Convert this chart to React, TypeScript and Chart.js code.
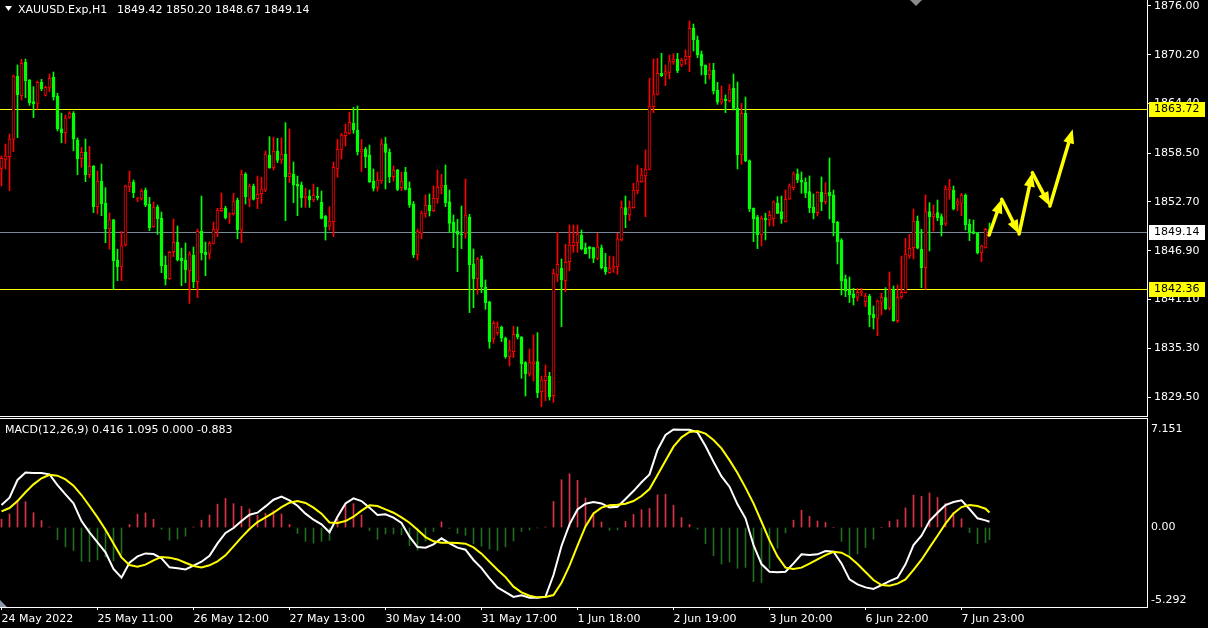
import React, { useEffect, useRef } from "react";
import { Chart, registerables } from "chart.js";

Chart.register(...registerables);
Chart.defaults.font.family = "DejaVu Sans";

// ---------- DATA ----------
const SYMBOL_TITLE = "XAUUSD.Exp,H1";
const SYMBOL_VALUES = "1849.42 1850.20 1848.67 1849.14";
const MACD_TITLE = "MACD(12,26,9) 0.416 1.095 0.000 -0.883";

const OPEN = [
  1856.70, 1857.77, 1858.09, 1860.15, 1867.68, 1865.34, 1869.30, 1867.20, 1864.63, 1864.43,
  1866.93, 1865.38, 1866.33, 1867.52, 1865.30, 1861.38, 1860.94, 1862.76, 1863.24, 1860.07,
  1857.85, 1858.64, 1855.95, 1856.98, 1852.14, 1855.19, 1852.54, 1849.49, 1850.56, 1845.80,
  1845.01, 1847.58, 1854.51, 1855.07, 1853.05, 1853.05, 1854.12, 1852.45, 1849.76, 1852.10,
  1850.79, 1845.20, 1843.57, 1846.79, 1847.93, 1846.03, 1845.79, 1844.53, 1846.39, 1843.22,
  1849.20, 1846.75, 1846.59, 1847.78, 1849.36, 1851.66, 1851.94, 1851.14, 1851.30, 1852.89,
  1849.36, 1856.02, 1853.00, 1854.59, 1853.09, 1853.68, 1854.12, 1858.28, 1856.77, 1858.76,
  1857.69, 1858.40, 1855.70, 1856.02, 1854.83, 1854.71, 1853.21, 1853.41, 1852.93, 1853.41,
  1852.69, 1851.03, 1849.84, 1850.35, 1856.62, 1858.95, 1860.58, 1860.86, 1862.05, 1861.25,
  1858.64, 1858.95, 1858.28, 1855.19, 1854.44, 1855.19, 1859.60, 1858.64, 1855.71, 1856.50,
  1854.40, 1856.26, 1854.36, 1852.46, 1846.39, 1848.97, 1851.27, 1852.34, 1851.67, 1853.05,
  1854.44, 1854.72, 1852.70, 1850.32, 1849.25, 1848.89, 1848.97, 1850.91, 1845.33, 1843.58,
  1845.92, 1842.59, 1840.81, 1836.41, 1837.16, 1837.83, 1836.52, 1834.31, 1834.90, 1837.00,
  1836.64, 1833.59, 1832.24, 1833.47, 1833.71, 1830.14, 1831.45, 1832.00, 1829.67, 1844.02,
  1844.81, 1843.34, 1845.60, 1847.50, 1847.86, 1848.77, 1847.23, 1847.35, 1847.27, 1846.00,
  1847.23, 1844.97, 1844.29, 1844.89, 1845.01, 1848.18, 1852.02, 1851.15, 1852.02, 1854.04,
  1855.11, 1855.79, 1856.58, 1864.03, 1865.50, 1867.99, 1867.88, 1868.11, 1869.38, 1869.70,
  1868.98, 1869.58, 1869.98, 1873.34, 1871.96, 1870.25, 1868.98, 1867.80, 1868.39, 1866.01,
  1864.55, 1864.94, 1864.74, 1866.25, 1863.83, 1858.28, 1863.24, 1857.61, 1851.94, 1850.87,
  1848.77, 1850.76, 1850.56, 1850.72, 1852.58, 1851.55, 1850.36, 1853.05, 1854.40, 1856.03,
  1855.31, 1855.04, 1853.93, 1852.10, 1851.43, 1853.85, 1852.74, 1853.85, 1853.53, 1850.32,
  1848.18, 1843.54, 1842.23, 1841.76, 1841.36, 1841.92, 1840.85, 1841.52, 1839.38, 1838.86,
  1840.77, 1841.32, 1840.05, 1842.31, 1838.58, 1841.44, 1841.91, 1846.27, 1847.26, 1850.44,
  1847.11, 1844.89, 1851.55, 1850.95, 1851.43, 1850.95, 1850.16, 1854.12, 1854.12, 1852.42,
  1852.54, 1853.53, 1850.08, 1849.17, 1848.97, 1846.67, 1847.30, 1849.42,
];
const HIGH = [
  1858.17, 1859.59, 1860.78, 1867.80, 1868.99, 1869.66, 1869.70, 1867.25, 1866.41, 1867.08,
  1867.28, 1866.49, 1867.92, 1868.15, 1865.62, 1863.24, 1863.04, 1863.44, 1863.44, 1860.31,
  1859.20, 1860.19, 1859.32, 1857.02, 1856.38, 1857.21, 1854.40, 1851.39, 1850.64, 1847.07,
  1849.21, 1854.70, 1856.38, 1855.31, 1853.25, 1854.24, 1854.36, 1853.25, 1852.69, 1852.33,
  1851.50, 1846.27, 1846.82, 1850.67, 1849.84, 1847.22, 1847.82, 1846.79, 1847.34, 1849.48,
  1853.40, 1847.93, 1847.98, 1850.31, 1851.94, 1853.76, 1852.18, 1851.42, 1853.72, 1853.17,
  1856.50, 1856.18, 1854.83, 1854.83, 1855.78, 1855.63, 1858.76, 1860.46, 1860.42, 1860.26,
  1860.34, 1862.13, 1861.37, 1857.45, 1855.78, 1855.07, 1854.32, 1854.12, 1854.83, 1854.44,
  1854.00, 1851.10, 1852.14, 1857.45, 1860.14, 1860.86, 1861.97, 1863.39, 1863.95, 1864.11,
  1860.14, 1859.19, 1859.47, 1856.62, 1856.26, 1860.20, 1860.40, 1859.00, 1856.98, 1856.58,
  1856.26, 1856.82, 1855.08, 1852.74, 1849.49, 1851.63, 1853.53, 1853.65, 1854.60, 1856.50,
  1855.99, 1857.10, 1854.12, 1851.15, 1850.64, 1852.22, 1855.43, 1851.23, 1847.11, 1846.12,
  1846.28, 1843.42, 1840.90, 1838.55, 1838.43, 1837.95, 1836.64, 1836.25, 1837.91, 1837.83,
  1836.70, 1833.71, 1835.22, 1836.88, 1837.16, 1832.00, 1833.31, 1832.44, 1844.73, 1849.09,
  1845.92, 1847.66, 1849.96, 1849.96, 1849.96, 1849.37, 1847.82, 1847.40, 1847.30, 1848.97,
  1847.58, 1846.59, 1846.27, 1846.19, 1848.97, 1852.81, 1853.41, 1852.81, 1854.91, 1857.09,
  1856.70, 1858.88, 1867.40, 1869.70, 1869.78, 1870.37, 1868.98, 1870.17, 1870.33, 1870.37,
  1869.78, 1870.77, 1874.22, 1873.86, 1872.43, 1870.65, 1869.00, 1869.18, 1869.18, 1866.92,
  1866.49, 1865.42, 1866.69, 1867.91, 1866.96, 1864.43, 1865.18, 1857.70, 1852.00, 1851.11,
  1851.03, 1851.35, 1851.63, 1852.82, 1853.33, 1853.41, 1854.12, 1854.84, 1856.27, 1856.62,
  1856.27, 1855.55, 1855.79, 1853.65, 1853.93, 1855.67, 1855.00, 1857.93, 1854.12, 1850.40,
  1848.34, 1844.02, 1843.78, 1842.43, 1842.43, 1842.43, 1841.84, 1841.72, 1840.33, 1841.04,
  1841.84, 1842.51, 1844.37, 1842.71, 1842.83, 1846.27, 1848.37, 1848.85, 1851.86, 1851.03,
  1849.45, 1853.53, 1852.62, 1852.34, 1852.93, 1851.27, 1854.64, 1855.39, 1854.60, 1853.13,
  1853.73, 1853.65, 1850.63, 1850.55, 1849.09, 1847.58, 1849.56, 1850.20,
];
const LOW = [
  1854.60, 1856.62, 1854.04, 1858.68, 1860.35, 1864.82, 1865.10, 1864.19, 1862.72, 1863.75,
  1865.93, 1865.30, 1865.82, 1864.82, 1861.14, 1859.75, 1859.67, 1862.64, 1858.80, 1855.95,
  1856.82, 1855.11, 1855.59, 1851.43, 1851.27, 1851.07, 1847.86, 1847.07, 1842.31, 1843.34,
  1843.34, 1847.46, 1853.92, 1853.21, 1852.73, 1852.93, 1852.14, 1849.28, 1849.68, 1848.85,
  1844.29, 1842.82, 1843.49, 1846.19, 1845.68, 1842.74, 1843.10, 1840.64, 1842.50, 1841.32,
  1845.79, 1843.93, 1845.91, 1847.70, 1848.57, 1851.54, 1850.67, 1850.15, 1851.14, 1848.33,
  1847.86, 1852.45, 1852.14, 1852.93, 1851.90, 1852.53, 1853.92, 1856.70, 1856.50, 1857.37,
  1857.29, 1850.47, 1854.99, 1852.61, 1851.07, 1852.06, 1852.06, 1852.06, 1852.73, 1852.93,
  1850.67, 1848.17, 1849.36, 1848.57, 1855.63, 1857.81, 1859.35, 1860.78, 1860.86, 1858.28,
  1856.30, 1856.77, 1854.99, 1854.00, 1854.00, 1854.92, 1854.24, 1855.00, 1855.19, 1854.04,
  1854.04, 1854.12, 1852.06, 1846.08, 1845.80, 1848.34, 1850.87, 1851.03, 1851.55, 1852.54,
  1853.65, 1852.14, 1849.05, 1847.27, 1844.41, 1847.15, 1848.38, 1839.54, 1840.13, 1841.76,
  1841.92, 1839.93, 1835.30, 1835.89, 1836.88, 1836.09, 1834.11, 1833.20, 1834.19, 1836.41,
  1831.73, 1829.63, 1832.00, 1831.41, 1829.43, 1828.36, 1829.07, 1829.15, 1828.88, 1843.22,
  1837.87, 1842.03, 1844.53, 1846.71, 1846.71, 1846.99, 1846.51, 1846.00, 1845.48, 1845.80,
  1844.73, 1844.09, 1844.21, 1844.33, 1844.09, 1848.06, 1849.64, 1850.48, 1851.94, 1853.65,
  1855.03, 1850.95, 1856.50, 1863.32, 1865.42, 1867.60, 1866.53, 1867.32, 1869.06, 1868.07,
  1868.79, 1869.06, 1868.19, 1870.65, 1869.86, 1867.80, 1866.77, 1867.32, 1865.54, 1864.31,
  1864.31, 1863.32, 1864.55, 1863.63, 1856.62, 1857.17, 1857.49, 1851.55, 1847.98, 1847.15,
  1847.47, 1848.18, 1849.84, 1849.84, 1851.30, 1850.16, 1850.30, 1853.00, 1854.12, 1855.00,
  1853.73, 1853.21, 1851.43, 1850.68, 1851.03, 1851.67, 1852.46, 1850.68, 1848.66, 1845.33,
  1841.64, 1841.44, 1840.73, 1840.45, 1840.93, 1841.52, 1840.25, 1837.87, 1837.60, 1836.80,
  1839.26, 1839.90, 1839.85, 1838.50, 1838.35, 1841.24, 1841.85, 1846.00, 1845.92, 1847.11,
  1842.51, 1842.31, 1846.87, 1849.25, 1850.48, 1848.65, 1849.88, 1853.01, 1851.74, 1851.66,
  1851.07, 1849.37, 1848.10, 1848.89, 1846.51, 1845.60, 1847.20, 1848.67,
];
const CLOSE = [
  1857.89, 1858.17, 1860.19, 1867.68, 1865.46, 1869.18, 1867.12, 1864.51, 1864.39, 1866.93,
  1866.17, 1866.33, 1867.40, 1865.22, 1861.42, 1860.94, 1862.68, 1863.24, 1860.15, 1857.81,
  1858.60, 1855.91, 1856.94, 1852.14, 1855.19, 1852.46, 1849.49, 1850.56, 1845.72, 1844.97,
  1847.50, 1854.59, 1855.07, 1853.80, 1853.17, 1854.00, 1852.33, 1849.64, 1852.10, 1850.67,
  1845.12, 1843.53, 1846.71, 1847.89, 1845.83, 1845.68, 1844.64, 1846.51, 1843.22, 1849.20,
  1846.67, 1846.43, 1847.78, 1849.44, 1851.74, 1851.94, 1850.83, 1851.30, 1852.73, 1849.36,
  1856.02, 1853.30, 1854.59, 1853.01, 1853.60, 1854.24, 1858.40, 1856.77, 1858.76, 1857.65,
  1858.40, 1855.70, 1856.10, 1854.71, 1854.59, 1853.21, 1853.41, 1852.93, 1853.49, 1853.21,
  1850.75, 1849.76, 1850.43, 1856.81, 1858.95, 1860.66, 1861.02, 1862.17, 1861.25, 1858.64,
  1859.00, 1858.08, 1855.11, 1854.32, 1855.31, 1859.60, 1858.60, 1855.71, 1856.50, 1854.20,
  1855.19, 1854.20, 1852.34, 1846.39, 1849.17, 1851.39, 1852.34, 1851.63, 1853.13, 1854.44,
  1854.72, 1852.62, 1850.16, 1849.13, 1848.85, 1848.77, 1851.15, 1845.21, 1843.58, 1845.92,
  1842.59, 1840.73, 1836.09, 1838.27, 1837.83, 1836.49, 1834.31, 1835.10, 1836.96, 1836.68,
  1833.43, 1832.24, 1833.59, 1833.71, 1830.02, 1831.53, 1832.00, 1829.55, 1844.21, 1845.28,
  1843.42, 1845.52, 1847.58, 1847.94, 1848.89, 1847.11, 1846.55, 1847.11, 1846.00, 1847.35,
  1844.89, 1844.41, 1844.81, 1845.01, 1848.30, 1852.02, 1851.15, 1852.02, 1854.12, 1855.19,
  1855.91, 1856.62, 1864.11, 1865.54, 1867.99, 1867.72, 1868.19, 1869.46, 1869.70, 1868.31,
  1869.58, 1870.05, 1873.34, 1871.96, 1870.17, 1868.87, 1867.80, 1868.39, 1865.89, 1864.55,
  1864.94, 1864.70, 1866.13, 1863.83, 1858.28, 1863.24, 1857.61, 1851.86, 1850.68, 1848.77,
  1850.76, 1850.56, 1851.11, 1852.70, 1851.35, 1850.64, 1853.01, 1854.60, 1856.03, 1855.31,
  1855.04, 1853.73, 1852.02, 1851.43, 1853.85, 1852.74, 1853.73, 1853.41, 1850.24, 1847.98,
  1843.30, 1842.12, 1841.64, 1841.32, 1841.96, 1842.04, 1841.52, 1839.26, 1838.94, 1840.92,
  1841.36, 1839.97, 1842.31, 1838.58, 1841.36, 1841.95, 1846.51, 1847.19, 1850.44, 1847.19,
  1844.89, 1851.55, 1850.95, 1851.27, 1850.83, 1849.96, 1854.24, 1854.40, 1851.86, 1852.73,
  1853.53, 1849.96, 1849.05, 1848.97, 1846.67, 1847.46, 1849.44, 1849.14,
];

// MACD main line and signal line, read every second bar (bars 0, 2, ..., 246)
const MACD_MAIN = [
  1.64, 2.18, 3.47, 4.02, 3.98, 3.98, 3.88, 3.10, 2.42, 1.76,
  0.47, -0.35, -1.08, -1.81, -3.03, -3.66, -2.57, -2.11, -1.89, -1.94,
  -2.25, -2.91, -2.98, -3.06, -2.79, -2.50, -2.06, -1.16, -0.40, -0.04,
  0.47, 0.93, 1.08, 1.54, 2.03, 2.25, 1.98, 1.59, 1.01, 0.57,
  0.23, -0.35, 0.79, 1.76, 2.13, 1.93, 1.45, 0.91, 0.96, 0.72,
  0.33, -0.67, -1.43, -1.47, -1.23, -0.79, -1.16, -1.47, -1.62, -2.37,
  -2.96, -3.71, -4.37, -4.71, -5.07, -4.95, -5.12, -5.12, -5.05, -3.47,
  -1.35, 0.23, 1.32, 1.74, 1.86, 1.76, 1.47, 1.52, 2.08, 2.66,
  3.30, 3.88, 5.66, 6.75, 7.15, 7.14, 7.14, 6.94, 5.95, 4.80,
  3.73, 2.98, 1.69, 0.67, -1.28, -2.67, -3.23, -3.27, -3.23, -2.62,
  -1.96, -2.01, -1.96, -1.72, -1.77, -2.62, -3.79, -4.15, -4.37, -4.49,
  -4.20, -3.91, -3.66, -2.69, -1.28, -0.60, 0.47, 1.08, 1.64, 1.86,
  1.98, 1.35, 0.67, 0.52,
];
const MACD_SIGNAL = [
  1.18, 1.42, 1.93, 2.57, 3.15, 3.59, 3.85, 3.78, 3.51, 3.05,
  2.37, 1.57, 0.74, -0.16, -1.16, -2.18, -2.74, -2.86, -2.71, -2.40,
  -2.15, -2.20, -2.33, -2.57, -2.81, -2.91, -2.76, -2.47, -2.03, -1.38,
  -0.72, -0.11, 0.40, 0.74, 1.08, 1.49, 1.81, 1.93, 1.79, 1.45,
  1.01, 0.37, 0.33, 0.47, 0.79, 1.23, 1.62, 1.57, 1.32, 1.08,
  0.74, 0.35, -0.16, -0.70, -1.01, -1.11, -1.11, -1.13, -1.18, -1.45,
  -1.91, -2.50, -3.08, -3.62, -4.32, -4.73, -4.98, -5.10, -5.07, -4.93,
  -4.03, -2.79, -1.33, 0.08, 1.03, 1.45, 1.62, 1.66, 1.74, 1.93,
  2.30, 2.81, 3.83, 4.88, 5.90, 6.58, 6.97, 7.04, 6.85, 6.39,
  5.78, 4.92, 3.98, 2.91, 1.76, 0.42, -0.94, -2.11, -2.93, -3.03,
  -2.93, -2.64, -2.33, -2.01, -1.77, -1.84, -2.15, -2.67, -3.25, -3.83,
  -4.20, -4.25, -4.10, -3.79, -3.10, -2.35, -1.47, -0.60, 0.28, 1.03,
  1.49, 1.64, 1.57, 1.37,
];
const MACD_LAST_MAIN = 0.416;
const MACD_LAST_SIGNAL = 1.095;
// histogram = 1.3 x (main - signal): 1.3 * (0.416 - 1.095) = -0.883 as in the legend
const HIST_FACTOR = 1.3;

const PRICE_TICKS = [1876.0, 1870.2, 1864.4, 1858.5, 1852.7, 1846.9, 1841.1, 1835.3, 1829.5];
const MACD_TICKS = [7.151, 0, -5.292];
const MACD_TICK_LABELS = ["7.151", "0.00", "-5.292"];
const TIME_TICK_BARS = [0, 24, 48, 72, 96, 120, 144, 168, 192, 216, 240];
const TIME_LABELS = [
  "24 May 2022", "25 May 11:00", "26 May 12:00", "27 May 13:00", "30 May 14:00",
  "31 May 17:00", "1 Jun 18:00", "2 Jun 19:00", "3 Jun 20:00", "6 Jun 22:00", "7 Jun 23:00",
];

const LEVEL_PRICES = [1863.72, 1849.14, 1842.36];
const LEVEL_KINDS = ["line", "bid", "line"];

// hand-drawn zig-zag forecast arrows (bar index, price)
const ARROW_BARS = [246.9, 250.05, 254.4, 257.7, 262.1, 267.8];
const ARROW_PRICES = [1848.77, 1853.02, 1848.89, 1856.18, 1852.22, 1861.34];

// ---------- STYLE / LAYOUT ----------
const W = 1208;
const MAIN_H = 417;
const MACD_H = 211;
const AXIS_W = 61;
const X_MIN = -0.375;
const X_MAX = 286.375;
const PRICE_MIN = 1827.248;
const PRICE_MAX = 1876.713;
const MACD_MIN = -5.803;
const MACD_MAX = 7.92;
const FONT = { family: "DejaVu Sans", size: 11 };
const BULL = "#ff0000";
const BEAR = "#00ff00";
const LEVEL_YELLOW = "#ffff00";
const BID_GRAY = "#778899";

function drawArrow(ctx: CanvasRenderingContext2D, x1: number, y1: number, x2: number, y2: number) {
  const ang = Math.atan2(y2 - y1, x2 - x1);
  const head = 14;
  const hw = 5.5;
  const bx = x2 - head * Math.cos(ang);
  const by = y2 - head * Math.sin(ang);
  ctx.beginPath();
  ctx.moveTo(x1, y1);
  ctx.lineTo(bx, by);
  ctx.lineWidth = 3.5;
  ctx.stroke();
  ctx.beginPath();
  ctx.moveTo(x2, y2);
  ctx.lineTo(bx + hw * Math.sin(ang), by - hw * Math.cos(ang));
  ctx.lineTo(bx - hw * Math.sin(ang), by + hw * Math.cos(ang));
  ctx.closePath();
  ctx.fill();
}

const fixVertical = (s: any) => {
  s.width = AXIS_W;
  s.paddingTop = 0;
  s.paddingBottom = 0;
};

export default function App() {
  const mainRef = useRef<HTMLCanvasElement | null>(null);
  const macdRef = useRef<HTMLCanvasElement | null>(null);

  useEffect(() => {
    document.body.style.margin = "0";
    document.body.style.background = "#000";

    const bull = OPEN.map((o, i) => CLOSE[i] >= o);

    const mainPlugin = {
      id: "mainDecor",
      beforeDatasetsDraw(chart: any) {
        const { ctx, chartArea, scales } = chart;
        LEVEL_PRICES.forEach((p, k) => {
          const y = Math.round(scales.y.getPixelForValue(p));
          ctx.save();
          ctx.fillStyle = LEVEL_KINDS[k] === "bid" ? BID_GRAY : LEVEL_YELLOW;
          ctx.fillRect(chartArea.left, y, chartArea.right - chartArea.left, 1);
          ctx.restore();
        });
      },
      afterDatasetsDraw(chart: any) {
        const { ctx, scales } = chart;
        ctx.save();
        ctx.strokeStyle = LEVEL_YELLOW;
        ctx.fillStyle = LEVEL_YELLOW;
        ctx.lineCap = "round";
        for (let k = 0; k < ARROW_BARS.length - 1; k++) {
          drawArrow(
            ctx,
            scales.x.getPixelForValue(ARROW_BARS[k]),
            scales.y.getPixelForValue(ARROW_PRICES[k]),
            scales.x.getPixelForValue(ARROW_BARS[k + 1]),
            scales.y.getPixelForValue(ARROW_PRICES[k + 1])
          );
        }
        ctx.restore();
      },
      afterDraw(chart: any) {
        const { ctx, chartArea, scales } = chart;
        ctx.save();
        ctx.fillStyle = "#ffffff";
        ctx.fillRect(0, chartArea.bottom, chartArea.right + 1, 1);
        ctx.beginPath();
        ctx.moveTo(5, 6);
        ctx.lineTo(12, 6);
        ctx.lineTo(8.5, 11);
        ctx.closePath();
        ctx.fill();
        ctx.font = "11px 'DejaVu Sans'";
        ctx.textBaseline = "middle";
        ctx.textAlign = "left";
        ctx.fillText(SYMBOL_TITLE, 18, 10);
        ctx.fillText(SYMBOL_VALUES, 117, 10);
        ctx.fillStyle = "#8a8a8a";
        ctx.beginPath();
        ctx.moveTo(910, 0);
        ctx.lineTo(922, 0);
        ctx.lineTo(916, 6);
        ctx.closePath();
        ctx.fill();
        LEVEL_PRICES.forEach((p, k) => {
          const y = Math.round(scales.y.getPixelForValue(p));
          ctx.fillStyle = LEVEL_KINDS[k] === "bid" ? "#ffffff" : LEVEL_YELLOW;
          ctx.fillRect(chartArea.right + 2, y - 7, 56, 15);
          ctx.fillStyle = "#000000";
          ctx.fillText(p.toFixed(2), chartArea.right + 7, y + 0.5);
        });
        ctx.restore();
      },
    };

    const main = new Chart(mainRef.current as HTMLCanvasElement, {
      type: "bar",
      data: {
        datasets: [
          {
            label: "body",
            data: OPEN.map((o, i) => ({ x: i, y: [o, CLOSE[i]] })) as any,
            backgroundColor: bull.map((b) => (b ? "#000000" : BEAR)),
            borderColor: bull.map((b) => (b ? BULL : BEAR)),
            borderWidth: 1,
            borderSkipped: false,
            barThickness: 3,
            minBarLength: 1,
            grouped: false,
            order: 1,
          } as any,
          {
            label: "wick",
            data: LOW.map((l, i) => ({ x: i, y: [l, HIGH[i]] })) as any,
            backgroundColor: bull.map((b) => (b ? BULL : BEAR)),
            borderWidth: 0,
            barThickness: 1,
            grouped: false,
            order: 2,
          } as any,
        ],
      },
      options: {
        responsive: false,
        maintainAspectRatio: false,
        animation: false,
        layout: { padding: { top: 0, left: 0, right: 0, bottom: 1 } },
        plugins: { legend: { display: false }, tooltip: { enabled: false } },
        scales: {
          x: { type: "linear", min: X_MIN, max: X_MAX, offset: false, display: false },
          y: {
            type: "linear",
            position: "right",
            min: PRICE_MIN,
            max: PRICE_MAX,
            afterFit: fixVertical,
            afterBuildTicks: (s: any) => {
              s.ticks = PRICE_TICKS.map((v) => ({ value: v }));
            },
            ticks: {
              color: "#ffffff",
              font: FONT,
              padding: 3,
              autoSkip: false,
              callback: (v: any) => Number(v).toFixed(2),
            },
            grid: { drawOnChartArea: false, drawTicks: true, tickLength: 4, color: "#ffffff" },
            border: { display: true, color: "#ffffff", width: 1 },
          },
        },
      } as any,
      plugins: [mainPlugin],
    });

    const macdBars = MACD_MAIN.map((_, k) => 2 * k).concat([OPEN.length - 1]);
    const mainLine = MACD_MAIN.concat([MACD_LAST_MAIN]);
    const signalLine = MACD_SIGNAL.concat([MACD_LAST_SIGNAL]);
    const hist = mainLine.map((v, k) => HIST_FACTOR * (v - signalLine[k]));

    const macdPlugin = {
      id: "macdDecor",
      afterDraw(chart: any) {
        const { ctx, chartArea } = chart;
        ctx.save();
        ctx.fillStyle = "#ffffff";
        ctx.fillRect(0, chartArea.top - 1, chartArea.right + 1, 1);
        ctx.font = "11px 'DejaVu Sans'";
        ctx.textBaseline = "middle";
        ctx.textAlign = "left";
        ctx.fillText(MACD_TITLE, 5, chartArea.top + 11);
        ctx.fillStyle = "#8a9aa8";
        ctx.beginPath();
        ctx.moveTo(0, chartArea.bottom - 7);
        ctx.lineTo(0, chartArea.bottom);
        ctx.lineTo(7, chartArea.bottom);
        ctx.closePath();
        ctx.fill();
        ctx.restore();
      },
    };

    const macd = new Chart(macdRef.current as HTMLCanvasElement, {
      type: "bar",
      data: {
        datasets: [
          {
            type: "line",
            label: "signal",
            data: macdBars.map((b, k) => ({ x: b, y: signalLine[k] })),
            borderColor: "#ffff00",
            borderWidth: 2,
            pointRadius: 0,
            order: 1,
          } as any,
          {
            type: "line",
            label: "macd",
            data: macdBars.map((b, k) => ({ x: b, y: mainLine[k] })),
            borderColor: "#ffffff",
            borderWidth: 2,
            pointRadius: 0,
            order: 2,
          } as any,
          {
            type: "bar",
            label: "hist",
            data: macdBars.map((b, k) => ({ x: b, y: hist[k] })),
            backgroundColor: hist.map((v) => (v >= 0 ? "#dc3246" : "#1e6e1e")),
            borderWidth: 0,
            barThickness: 1,
            grouped: false,
            order: 3,
          } as any,
        ],
      },
      options: {
        responsive: false,
        maintainAspectRatio: false,
        animation: false,
        layout: { padding: { top: 2, left: 0, right: 0, bottom: 0 } },
        plugins: { legend: { display: false }, tooltip: { enabled: false } },
        scales: {
          x: {
            type: "linear",
            min: X_MIN,
            max: X_MAX,
            offset: false,
            position: "bottom",
            afterFit: (s: any) => {
              s.height = 21;
              s.paddingLeft = 0;
              s.paddingRight = 0;
            },
            afterBuildTicks: (s: any) => {
              s.ticks = TIME_TICK_BARS.map((v) => ({ value: v }));
            },
            ticks: {
              color: "#ffffff",
              font: FONT,
              align: "start",
              maxRotation: 0,
              autoSkip: false,
              padding: 3,
              callback: (_v: any, i: number) => TIME_LABELS[i],
            },
            grid: { drawOnChartArea: false, drawTicks: true, tickLength: 3, color: "#ffffff", offset: false },
            border: { display: true, color: "#ffffff", width: 1 },
          },
          y: {
            type: "linear",
            position: "right",
            min: MACD_MIN,
            max: MACD_MAX,
            afterFit: fixVertical,
            afterBuildTicks: (s: any) => {
              s.ticks = MACD_TICKS.map((v) => ({ value: v }));
            },
            ticks: {
              color: "#ffffff",
              font: FONT,
              padding: 4,
              autoSkip: false,
              callback: (_v: any, i: number) => MACD_TICK_LABELS[i],
            },
            grid: { drawOnChartArea: false, drawTicks: false, color: "#ffffff" },
            border: { display: true, color: "#ffffff", width: 1 },
          },
        },
      } as any,
      plugins: [macdPlugin],
    });

    return () => {
      main.destroy();
      macd.destroy();
    };
  }, []);

  return (
    <div style={{ position: "relative", width: W, height: MAIN_H + MACD_H, background: "#000", overflow: "hidden" }}>
      <canvas
        ref={mainRef}
        width={W}
        height={MAIN_H}
        style={{ position: "absolute", left: 0, top: 0, width: W, height: MAIN_H, display: "block" }}
      />
      <canvas
        ref={macdRef}
        width={W}
        height={MACD_H}
        style={{ position: "absolute", left: 0, top: MAIN_H, width: W, height: MACD_H, display: "block" }}
      />
    </div>
  );
}
